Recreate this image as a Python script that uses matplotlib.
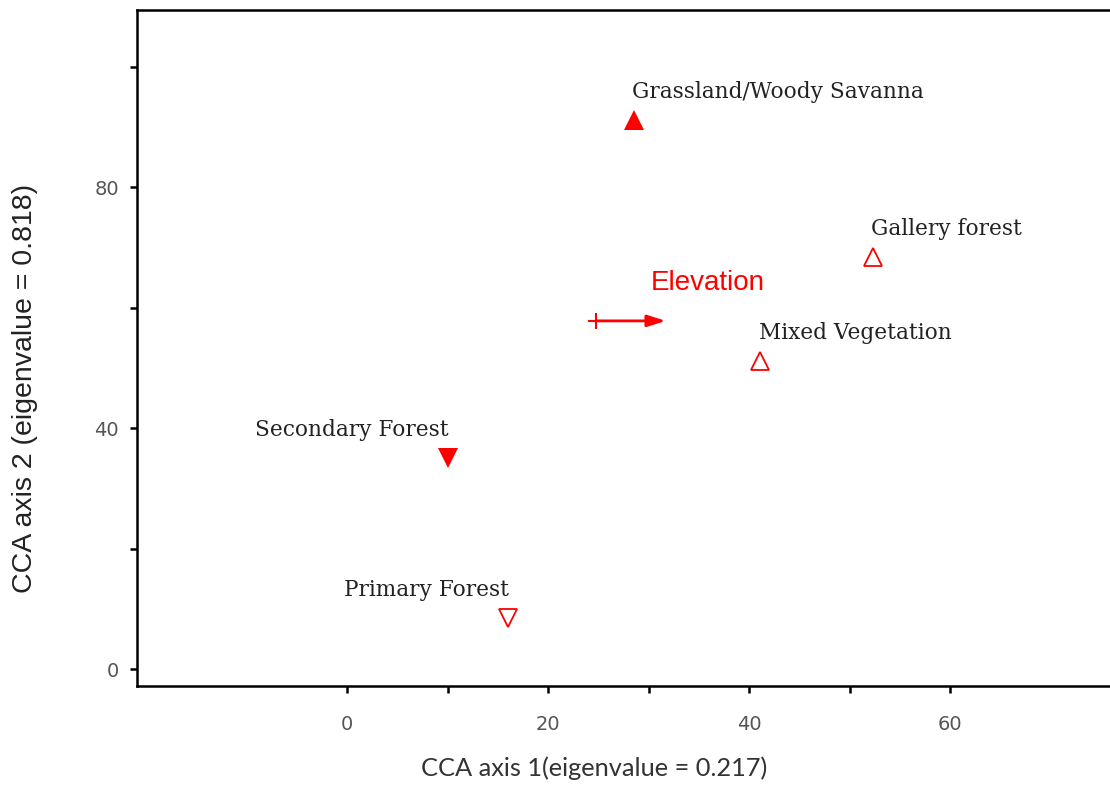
import numpy as np
import matplotlib
matplotlib.use("Agg")
import matplotlib.pyplot as plt

# site scores on the first two CCA axes
sites = ["Grassland/Woody Savanna", "Gallery forest", "Mixed Vegetation",
         "Secondary Forest", "Primary Forest"]
axis1 = [28.5, 52.3, 41.1, 10.0, 16.0]
axis2 = [91.1, 68.4, 51.1, 35.0, 8.5]
markers = ["^", "^", "^", "v", "v"]
filled = [True, False, False, True, False]

# environmental vector
env_name = "Elevation"
env_start = (24.8, 57.8)
env_end = (31.7, 57.8)

xticks = [0, 10, 20, 30, 40, 50, 60]
xtick_labels = ["0", "", "20", "", "40", "", "60"]
yticks = [0, 20, 40, 60, 80, 100]
ytick_labels = ["0", "", "40", "", "80", ""]

RED = "#ff0000"

fig = plt.figure(figsize=(11.1, 7.87), dpi=100)
ax = fig.add_axes([137 / 1110, 1 - 686 / 787, 1 - 137 / 1110, (686 - 10) / 787])

for name, x, y, m, f in zip(sites, axis1, axis2, markers, filled):
    ax.plot(x, y, marker=m, linestyle="none", markersize=14 if f else 13,
            markerfacecolor=RED if f else "white", markeredgecolor=RED,
            markeredgewidth=0 if f else 1.3, zorder=3)
    ha = "left" if m == "^" else "right"
    dx = -1 if m == "^" else 1
    ax.annotate(name, (x, y), xytext=(dx, 20), textcoords="offset points",
                ha=ha, va="center", family="DejaVu Serif", fontsize=15.6,
                color="#222222")

# elevation arrow
ax.annotate("", xy=env_end, xytext=env_start,
            arrowprops=dict(arrowstyle="-|>,head_length=1.1,head_width=0.35",
                            color=RED, lw=2, shrinkA=0, shrinkB=0))
ax.plot(*env_start, marker="+", color=RED, markersize=12, markeredgewidth=1.5)
ax.annotate(env_name, env_end, xytext=(-11, 27), textcoords="offset points",
            ha="left", va="center", family="Liberation Sans", fontsize=20,
            color=RED)

ax.set_xlim(-20.9, 75.9)
ax.set_ylim(-2.8, 109.4)
ax.set_xticks(xticks)
ax.set_xticklabels(xtick_labels)
ax.set_yticks(yticks)
ax.set_yticklabels(ytick_labels)
ax.tick_params(direction="out", length=5, width=1.8, labelsize=14,
               labelcolor="#555555")
ax.tick_params(axis="x", pad=16)
ax.tick_params(axis="y", pad=8)

for side in ["left", "bottom", "top"]:
    ax.spines[side].set_linewidth(1.8)
ax.spines["right"].set_visible(False)

ax.set_xlabel("CCA axis 1(eigenvalue = 0.217)", family="Lato", fontsize=18.3,
              color="#333333")
ax.xaxis.set_label_coords((594 - 137) / 973, -(768 - 686) / 676, )
ax.xaxis.label.set_va("center")
ax.set_ylabel("CCA axis 2 (eigenvalue = 0.818)", family="Liberation Sans",
              fontsize=20.5, color="#222222")
ax.yaxis.set_label_coords((25 - 137) / 973, (686 - 388) / 676)
ax.yaxis.label.set_va("center")

fig.savefig("out.png", dpi=100)
